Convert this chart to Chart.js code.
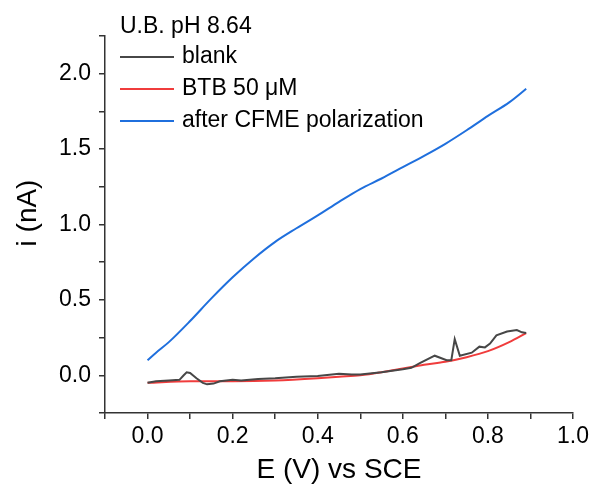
<!DOCTYPE html>
<html>
<head>
<meta charset="utf-8">
<script src="https://cdn.jsdelivr.net/npm/chart.js@4/dist/chart.umd.min.js"></script>
<style>
  html, body { margin: 0; padding: 0; background: #fff; }
  #wrap { width: 594px; height: 492px; position: relative; }
</style>
</head>
<body>
<div id="wrap"><canvas id="myChart" width="594" height="492"></canvas></div>
<script>
// legend / labels
var legendTitle = "U.B. pH 8.64";
var seriesNames = ["blank", "BTB 50 \u03bcM", "after CFME polarization"];
var seriesColors = ["#474747", "#f03c3c", "#1f6fdd"];

// blank
var blankE = [0.00, 0.02, 0.05, 0.075, 0.085, 0.092, 0.10, 0.115, 0.13, 0.14, 0.155, 0.17, 0.20, 0.22, 0.26, 0.30, 0.35, 0.40, 0.45, 0.48, 0.50, 0.55, 0.60, 0.62, 0.64, 0.675, 0.703, 0.714, 0.722, 0.734, 0.762, 0.78, 0.793, 0.805, 0.82, 0.845, 0.868, 0.88, 0.89];
var blankI = [-0.05, -0.04, -0.035, -0.03, 0.00, 0.02, 0.015, -0.02, -0.05, -0.06, -0.055, -0.04, -0.03, -0.035, -0.025, -0.02, -0.01, -0.005, 0.01, 0.005, 0.005, 0.02, 0.04, 0.05, 0.08, 0.13, 0.10, 0.10, 0.24, 0.13, 0.15, 0.19, 0.185, 0.21, 0.265, 0.29, 0.30, 0.285, 0.28];

// BTB 50 uM
var btbE = [0.00, 0.10, 0.20, 0.30, 0.40, 0.45, 0.50, 0.55, 0.60, 0.65, 0.70, 0.75, 0.80, 0.85, 0.89];
var btbI = [-0.05, -0.04, -0.04, -0.035, -0.02, -0.01, 0.00, 0.02, 0.045, 0.07, 0.09, 0.12, 0.16, 0.22, 0.28];

// after CFME polarization
var afterE = [0.00, 0.02, 0.05, 0.10, 0.15, 0.20, 0.25, 0.30, 0.35, 0.40, 0.45, 0.50, 0.55, 0.60, 0.65, 0.70, 0.75, 0.80, 0.85, 0.89];
var afterI = [0.10, 0.15, 0.22, 0.36, 0.51, 0.65, 0.775, 0.885, 0.975, 1.06, 1.15, 1.235, 1.305, 1.38, 1.455, 1.535, 1.625, 1.72, 1.81, 1.90];

var xTitle = "E (V) vs SCE";
var yTitle = "i (nA)";

function pts(xs, ys) {
	return xs.map(function(x, i){ return {x: x, y: ys[i]}; });
}

var fontFam = "Arial, 'Liberation Sans', sans-serif";

// legend inside the plot, Origin style
var insideLegend = {
	id: 'insideLegend',
	afterDraw: function(chart) {
		var ctx = chart.ctx;
		ctx.save();
		ctx.font = "23px " + fontFam;
		ctx.fillStyle = "#000";
		ctx.textBaseline = "middle";
		ctx.textAlign = "left";
		ctx.fillText(legendTitle, 120, 27);
		chart.data.datasets.forEach(function(ds, i){
			var y = 57 + i * 32;
			ctx.strokeStyle = ds.borderColor;
			ctx.lineWidth = 2;
			ctx.beginPath();
			ctx.moveTo(120, y);
			ctx.lineTo(174, y);
			ctx.stroke();
			ctx.fillStyle = "#000";
			ctx.fillText(ds.label, 182, y);
		});
		// y axis title
		ctx.font = "28px " + fontFam;
		ctx.textAlign = "center";
		ctx.translate(28, 213);
		ctx.rotate(-Math.PI / 2);
		ctx.fillText(yTitle, 0, 0);
		ctx.restore();
	}
};

var ctx = document.getElementById("myChart");
var myChart = new Chart(ctx, {
	type: 'line',
	data: {
		datasets: [
			{ label: seriesNames[0], data: pts(blankE, blankI), borderColor: seriesColors[0], borderWidth: 2, pointRadius: 0, tension: 0 },
			{ label: seriesNames[1], data: pts(btbE, btbI), borderColor: seriesColors[1], borderWidth: 2, pointRadius: 0, cubicInterpolationMode: 'monotone' },
			{ label: seriesNames[2], data: pts(afterE, afterI), borderColor: seriesColors[2], borderWidth: 2, pointRadius: 0, cubicInterpolationMode: 'monotone' }
		]
	},
	options: {
		responsive: false,
		animation: false,
		layout: { padding: { top: 36, right: 21, left: 0, bottom: 0 } },
		plugins: {
			legend: { display: false },
			tooltip: { enabled: false }
		},
		scales: {
			x: {
				type: 'linear',
				min: -0.1,
				max: 1.0,
				afterFit: function(scale){ scale.height = 79; },
				afterBuildTicks: function(scale){
					var t = [];
					for (var k = -1; k <= 10; k++) t.push({value: k / 10});
					scale.ticks = t;
				},
				border: { display: true, color: '#333', width: 1.5 },
				grid: { display: true, drawOnChartArea: false, drawTicks: true, tickLength: 6, color: '#333', lineWidth: 1.5 },
				ticks: {
					color: '#000',
					font: { size: 23, family: fontFam },
					padding: 4,
					maxRotation: 0,
					autoSkip: false,
					callback: function(v){
						var k = Math.round(v * 10);
						return (k >= 0 && k % 2 === 0) ? (k / 10).toFixed(1) : '';
					}
				},
				title: { display: true, text: xTitle, color: '#000', font: { size: 28, family: fontFam }, padding: { top: 0, bottom: 5 } }
			},
			y: {
				type: 'linear',
				min: -0.25,
				max: 2.25,
				afterFit: function(scale){ scale.width = 105; },
				afterBuildTicks: function(scale){
					var t = [];
					for (var k = -1; k <= 9; k++) t.push({value: k / 4});
					scale.ticks = t;
				},
				border: { display: true, color: '#333', width: 1.5 },
				grid: { display: true, drawOnChartArea: false, drawTicks: true, tickLength: 6, color: '#333', lineWidth: 1.5 },
				ticks: {
					color: '#000',
					font: { size: 23, family: fontFam },
					padding: 8,
					autoSkip: false,
					callback: function(v){
						var k = Math.round(v * 4);
						return (k % 2 === 0) ? (k / 4).toFixed(1) : '';
					}
				}
			}
		}
	},
	plugins: [insideLegend]
});
</script>
</body>
</html>
